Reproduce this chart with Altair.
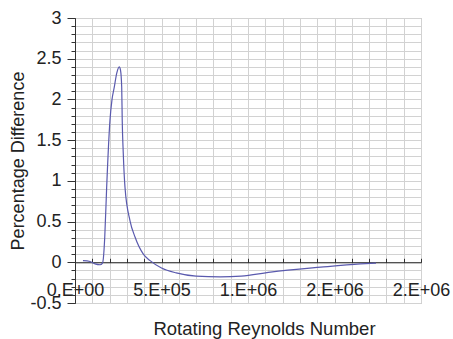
import json
import altair as alt
import pandas as pd

# Data
reynolds = [0.46e5, 0.87e5, 1.16e5, 1.45e5, 1.59e5, 1.64e5, 1.72e5, 1.83e5, 2.02e5, 2.14e5,
            2.27e5, 2.41e5, 2.56e5, 2.63e5, 2.70e5, 2.73e5, 2.79e5, 2.89e5, 3.18e5, 3.47e5,
            3.95e5, 4.34e5, 5.0e5, 5.85e5, 7.0e5, 8.4e5, 9.6e5, 11.3e5, 14.2e5, 16.5e5, 17.4e5]
pct_diff = [0.02, 0.01, -0.02, -0.03, -0.01, 0.05, 0.31, 0.92, 1.74, 2.0,
            2.15, 2.32, 2.40, 2.36, 2.15, 1.74, 1.34, 0.92, 0.51, 0.31,
            0.10, 0.02, -0.07, -0.13, -0.17, -0.18, -0.17, -0.12, -0.06, -0.02, -0.01]

x_major = [0, 500000, 1000000, 1500000, 2000000]
x_tick_labels = ["0.E+00", "5.E+05", "1.E+06", "2.E+06", "2.E+06"]
x_minor = [i * 100000 for i in range(21)]
y_major = [-0.5, 0, 0.5, 1, 1.5, 2, 2.5, 3]
y_minor = [round(-0.5 + i * 0.1, 1) for i in range(36)]

df = pd.DataFrame({"re": reynolds, "pct": pct_diff})

W, H = 346, 285
y_dom = [-0.5, 3]
px_per_unit = H / (y_dom[1] - y_dom[0])
FONT = "Liberation Sans"
TXT = "#222222"

xs = alt.Scale(domain=[0, 2000000], nice=False, zero=False)
ys = alt.Scale(domain=y_dom, nice=False, zero=False)

label_expr = json.dumps(x_tick_labels) + "[round(datum.value/500000)]"

# Layer 1: the curve, grid lines, y axis line with minor ticks
l1 = alt.Chart(df).mark_line(color="#5a5aae", strokeWidth=1.2, interpolate="monotone").encode(
    x=alt.X("re:Q", scale=xs, axis=alt.Axis(orient="bottom", values=x_minor, grid=True,
                                            gridColor="#d2d2d2", gridWidth=1, ticks=False,
                                            labels=False, domain=False, title=None)),
    y=alt.Y("pct:Q", scale=ys, axis=alt.Axis(orient="left", values=y_minor, grid=True,
                                             gridColor="#d2d2d2", gridWidth=1, ticks=True,
                                             tickSize=4, tickColor="#333333", labels=False,
                                             domain=True, domainColor="#333333", title=None)),
)

# Layer 2: zero line (x axis) with small upward ticks, y major ticks + labels
l2 = alt.Chart(df).mark_line(strokeOpacity=0).encode(
    x=alt.X("re:Q", scale=xs, axis=alt.Axis(orient="top", offset=-(y_dom[1] * px_per_unit),
                                            values=x_minor, grid=False, ticks=True, tickSize=4,
                                            tickColor="#333333", labels=False, domain=True,
                                            domainColor="#222222", title=None)),
    y=alt.Y("pct:Q", scale=ys, axis=alt.Axis(orient="left", values=y_major, grid=False,
                                             ticks=True, tickSize=8, tickColor="#333333",
                                             labels=True, labelExpr="'' + datum.value",
                                             labelFont=FONT, labelFontSize=18, labelFlush=False,
                                             labelOverlap=False,
                                             labelColor=TXT, labelPadding=6, domain=False,
                                             title="Percentage Difference", titleFont=FONT,
                                             titleFontSize=18, titleFontWeight="normal",
                                             titleColor=TXT, titleX=-57, titleY=H / 2,
                                             titleBaseline="middle", titleAlign="center")),
)

# Layer 3: x labels just below the zero line, x title
l3 = alt.Chart(df).mark_line(strokeOpacity=0).encode(
    x=alt.X("re:Q", scale=xs, axis=alt.Axis(orient="bottom", offset=-(0 - y_dom[0]) * px_per_unit,
                                            values=x_major, labelExpr=label_expr, grid=False,
                                            ticks=False, tickSize=0, labels=True, labelFont=FONT,
                                            labelFontSize=18, labelColor=TXT, labelPadding=19,
                                            labelBaseline="top", labelAlign="center",
                                            labelFlush=False, labelOverlap=False, domain=False,
                                            title="Rotating Reynolds Number", titleFont=FONT,
                                            titleFontSize=18.5, titleFontWeight="normal",
                                            titleColor=TXT, titleX=189, titleY=66,
                                            titleBaseline="middle", titleAlign="center")),
    y=alt.Y("pct:Q", scale=ys, axis=None),
)

chart = alt.layer(l1, l2, l3).resolve_axis(x="independent", y="independent").properties(
    width=W, height=H,
    autosize=alt.AutoSizeParams(type="none"),
    padding={"left": 75, "top": 18, "right": 32, "bottom": 36},
    background="white",
).configure_view(stroke="#b0b0b0", strokeWidth=1)

chart.save("out.html", embed_options={"renderer": "svg", "actions": False})
